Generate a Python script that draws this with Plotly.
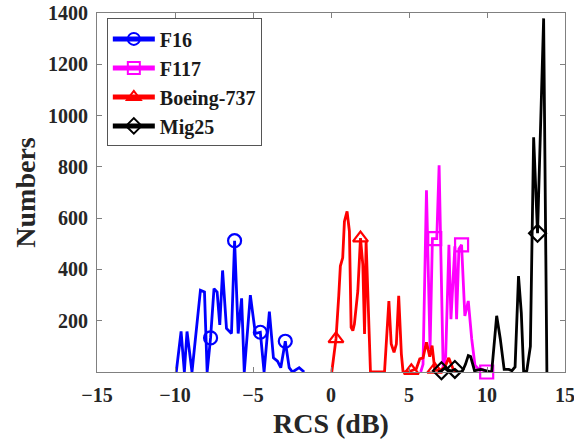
import plotly.graph_objects as go

# ---------------- data ----------------
f16_x = [-9.92, -9.61, -9.40, -9.23, -8.91, -8.37, -8.11, -7.94, -7.72, -7.50, -7.30,
         -7.13, -6.95, -6.70, -6.38, -6.18, -5.95, -5.73, -5.56, -5.17, -4.85, -4.53,
         -4.29, -3.95, -3.69, -3.43, -3.22, -2.93, -2.68, -2.47, -2.04, -1.72]
f16_y = [0, 158, 0, 158, 0, 319, 312, 0, 133, 325, 312,
         184, 396, 170, 150, 512, 150, 287, 0, 300, 150, 155,
         0, 235, 55, 42, 17, 120, 17, 0, 17, 0]
f16_mk = [8, 15, 21, 27]

f117_x = [5.75, 5.90, 6.12, 6.35, 6.50, 6.65, 6.78, 6.93, 7.19, 7.35, 7.56, 7.69,
          7.94, 8.05, 8.20, 8.37, 8.58, 8.80, 9.02, 9.23, 9.44, 9.70, 9.98]
f117_y = [0, 30, 709, 90, 520, 520, 520, 806, 13, 60, 496, 206,
          490, 206, 480, 496, 219, 277, 129, 26, 13, 10, 0]
f117_mk = [5, 15, 22]

b737_x = [0.05, 0.32, 0.50, 0.60, 0.75, 0.86, 1.03, 1.18, 1.29, 1.40, 1.50, 1.72,
          1.89, 2.04, 2.15, 2.25, 2.53, 3.11, 3.43, 3.71, 3.86, 4.04, 4.19, 4.34,
          4.51, 4.62, 4.94, 5.15, 5.47, 5.69, 5.90, 6.12, 6.33, 6.48, 6.65, 6.97,
          7.30, 7.55, 7.84, 8.05]
b737_y = [0, 129, 300, 413, 445, 587, 626, 549, 174, 161, 187, 316,
          522, 419, 148, 510, 0, 0, 0, 277, 109, 77, 109, 297,
          71, 0, 0, 5, 13, 51, 55, 116, 60, 103, 10, 5,
          20, 55, 10, 0]
b737_mk = [1, 12, 27, 34]

mig_x = [6.87, 7.08, 7.30, 7.50, 7.75, 7.94, 8.15, 8.40, 8.62, 8.80, 8.95, 9.20,
         9.60, 10.00, 10.30, 10.62, 10.85, 11.10, 11.40, 11.60, 11.80, 12.02, 12.20,
         12.35, 12.55, 12.78, 12.99, 13.24, 13.63, 13.84]
mig_y = [0, 5, 15, 5, 5, 10, 0, 0, 30, 64, 60, 5,
         10, 5, 0, 219, 130, 10, 10, 5, 20, 374, 230,
         0, 5, 100, 915, 541, 1379, 0]
mig_mk = [1, 5, 27]

names = ["F16", "F117", "Boeing-737", "Mig25"]
colors = ["#0000ff", "#ff00ff", "#ff0000", "#000000"]
symbols = ["circle-open", "square-open", "triangle-up-open", "diamond-open"]
series = [(f16_x, f16_y, f16_mk), (f117_x, f117_y, f117_mk),
          (b737_x, b737_y, b737_mk), (mig_x, mig_y, mig_mk)]

x_ticks = [-15, -10, -5, 0, 5, 10, 15]
y_ticks = [200, 400, 600, 800, 1000, 1200, 1400]

FONT = "Liberation Serif"
AX = "#808080"
TXT = "#262626"
LW = 2.8
MS = 13

fig = go.Figure()
for name, col, sym, (xs, ys, mk) in zip(names, colors, symbols, series):
    fig.add_trace(go.Scatter(x=xs, y=ys, mode="lines", line=dict(color=col, width=LW),
                             showlegend=False, legendgroup=name, hoverinfo="skip"))
    fig.add_trace(go.Scatter(x=[xs[i] for i in mk], y=[ys[i] for i in mk], mode="markers",
                             marker=dict(symbol=sym, size=MS, color=col,
                                         line=dict(color=col, width=2.2)),
                             showlegend=False, legendgroup=name, cliponaxis=False))
    fig.add_trace(go.Scatter(x=[None], y=[None], mode="lines+markers", name=name,
                             line=dict(color=col, width=LW), legendgroup=name,
                             marker=dict(symbol=sym, size=MS, color=col,
                                         line=dict(color=col, width=2.2))))

fig.update_layout(
    width=574, height=440,
    margin=dict(l=97, r=9, t=13, b=68),
    paper_bgcolor="white", plot_bgcolor="white",
    font=dict(family=FONT, size=20, color=TXT, weight="bold"),
    legend=dict(x=0.021, y=0.985, xanchor="left", yanchor="top",
                bgcolor="white", bordercolor="#555555", borderwidth=1,
                font=dict(family=FONT, size=20, color="#1a1a1a", weight="bold"),
                itemsizing="constant", itemwidth=42, tracegroupgap=0),
    xaxis=dict(range=[-15, 15], tickvals=x_ticks, ticks="inside", ticklen=5,
               tickcolor=AX, showline=True, linecolor=AX, linewidth=1, mirror="ticks",
               showgrid=False, zeroline=False, ticklabelstandoff=5,
               ticklabeloverflow="allow", automargin=False,
               tickfont=dict(family=FONT, size=20, color=TXT, weight="bold"),
               title=dict(text="RCS (dB)", standoff=8,
                          font=dict(family=FONT, size=28, color=TXT, weight="bold"))),
    yaxis=dict(range=[0, 1400], tickvals=y_ticks, ticks="inside", ticklen=5,
               tickcolor=AX, showline=True, linecolor=AX, linewidth=1, mirror="ticks",
               showgrid=False, zeroline=False, ticklabelstandoff=4,
               ticklabeloverflow="allow", automargin=False,
               tickfont=dict(family=FONT, size=20, color=TXT, weight="bold"),
               title=dict(text="Numbers", standoff=4,
                          font=dict(family=FONT, size=28, color=TXT, weight="bold"))),
)

fig.write_html("out.html")
